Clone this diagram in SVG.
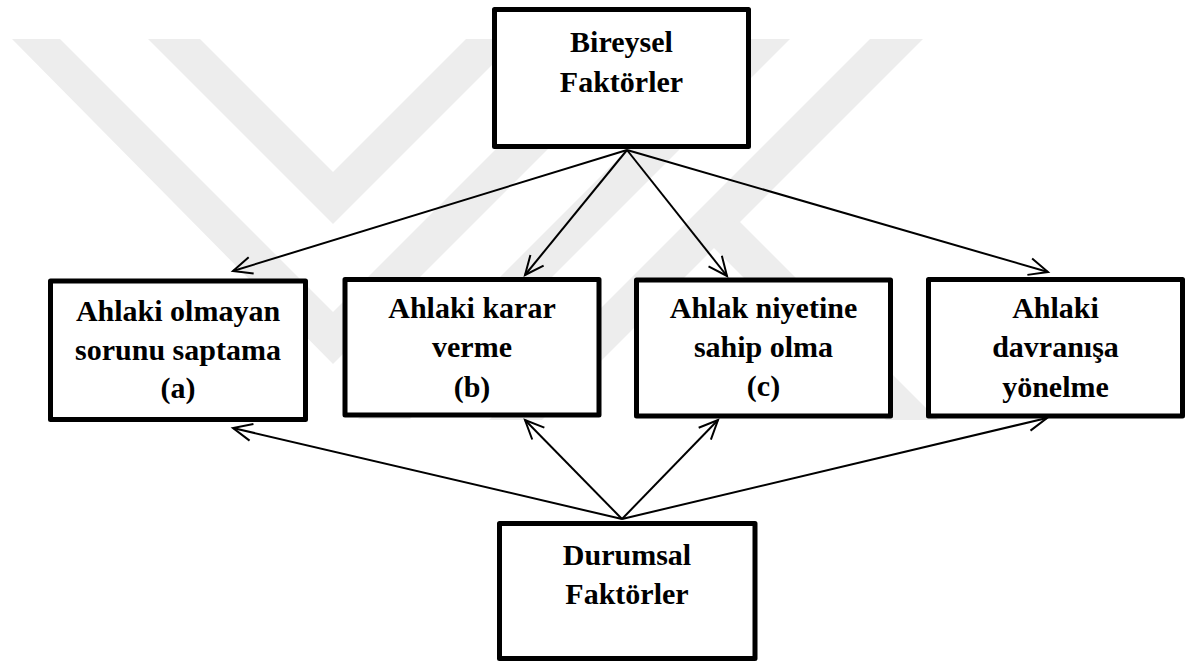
<svg xmlns="http://www.w3.org/2000/svg" width="1187" height="663" viewBox="0 0 1187 663">
<style>
  .wm { fill: #ededed; stroke: none; }
  .box { fill: #ffffff; stroke: #000000; stroke-width: 5; stroke-linejoin: round; }
  .lbl { font-family: "Liberation Serif", "Times New Roman", serif; font-weight: bold; font-size: 30px; fill: #000000; text-anchor: middle; }
  .conn { fill: none; stroke: #000000; stroke-width: 2; marker-end: url(#ah); }
</style>
<defs>
  <marker id="ah" markerUnits="userSpaceOnUse" markerWidth="40" markerHeight="40" refX="0" refY="0" orient="auto" overflow="visible">
    <path d="M-19,-8.5 L0,0 L-19,8.5" fill="none" stroke="#000000" stroke-width="2"/>
  </marker>
</defs>
<rect x="0" y="0" width="1187" height="663" fill="#ffffff"/>
<g id="watermark">
  <polygon class="wm" points="12,39 60,39 333,312 606,39 658,39 333,364"/>
  <polygon class="wm" points="148,39 200,39 333,172 466,39 518,39 333,224"/>
  <polygon class="wm" points="738,39 790,39 410,419 358,419"/>
  <polygon class="wm" points="870,39 923,39 542,420 489,420"/>
  <polygon class="wm" points="740,222 938,420 886,420 687,221"/>
</g>
<g id="connectors">
  <line class="conn" x1="627" y1="150" x2="233" y2="271"/>
  <line class="conn" x1="627" y1="150" x2="525" y2="275"/>
  <line class="conn" x1="627" y1="150" x2="727" y2="276"/>
  <line class="conn" x1="627" y1="150" x2="1048" y2="272"/>
  <line class="conn" x1="622" y1="519" x2="233" y2="428"/>
  <line class="conn" x1="622" y1="519" x2="525" y2="420"/>
  <line class="conn" x1="622" y1="519" x2="718" y2="420"/>
  <line class="conn" x1="622" y1="519" x2="1047" y2="418"/>
</g>
<g id="node-bireysel">
  <rect class="box" x="494.5" y="9.5" width="254" height="137"/>
  <text class="lbl" x="621.5" y="52">Bireysel</text>
  <text class="lbl" x="621.5" y="92">Faktörler</text>
</g>
<g id="node-a">
  <rect class="box" x="50.5" y="281" width="255" height="138.5"/>
  <text class="lbl" x="178" y="321">Ahlaki olmayan</text>
  <text class="lbl" x="178" y="360">sorunu saptama</text>
  <text class="lbl" x="178" y="398">(a)</text>
</g>
<g id="node-b">
  <rect class="box" x="345" y="279.5" width="254" height="135.5"/>
  <text class="lbl" x="472" y="318">Ahlaki karar</text>
  <text class="lbl" x="472" y="357">verme</text>
  <text class="lbl" x="472" y="397">(b)</text>
</g>
<g id="node-c">
  <rect class="box" x="636.5" y="280" width="254" height="136"/>
  <text class="lbl" x="763.5" y="318">Ahlak niyetine</text>
  <text class="lbl" x="763.5" y="357">sahip olma</text>
  <text class="lbl" x="763.5" y="396">(c)</text>
</g>
<g id="node-d">
  <rect class="box" x="928.5" y="279.5" width="254" height="136.5"/>
  <text class="lbl" x="1055.5" y="318">Ahlaki</text>
  <text class="lbl" x="1055.5" y="357">davranışa</text>
  <text class="lbl" x="1055.5" y="397">yönelme</text>
</g>
<g id="node-durumsal">
  <rect class="box" x="499.5" y="523.5" width="255.5" height="135"/>
  <text class="lbl" x="627" y="565">Durumsal</text>
  <text class="lbl" x="627" y="604">Faktörler</text>
</g>
</svg>
